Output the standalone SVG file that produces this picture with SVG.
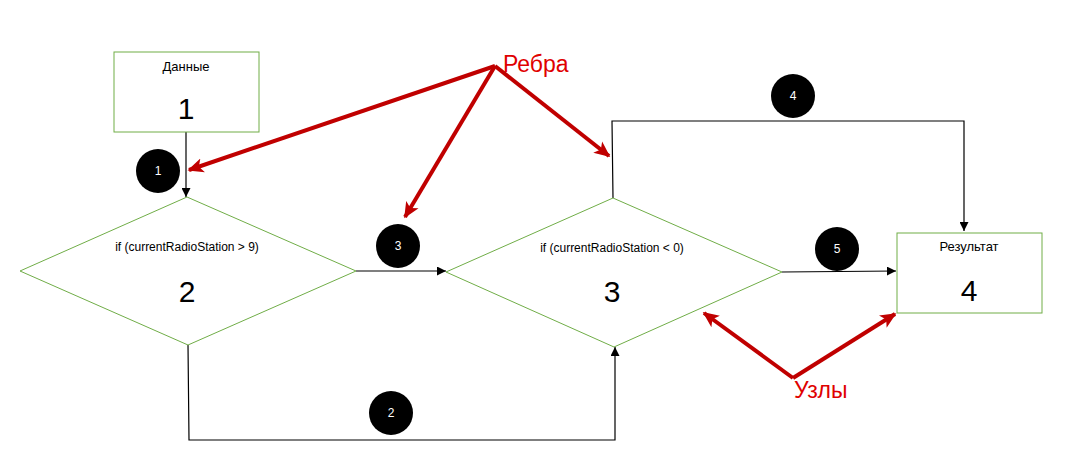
<svg xmlns="http://www.w3.org/2000/svg" width="1083" height="471" viewBox="0 0 1083 471">
<style>
.node{fill:#fff;stroke:#70ad47;stroke-width:1}
.lbl{font-family:"Liberation Sans",Arial,sans-serif;font-size:12px;fill:#000;text-anchor:middle}
.ttl{font-family:"Liberation Sans",Arial,sans-serif;font-size:13px;fill:#000;text-anchor:middle}
.big{font-family:"Liberation Sans",Arial,sans-serif;font-size:30px;fill:#000;text-anchor:middle}
.conn{fill:none;stroke:#000;stroke-width:1.2}
.badge{fill:#000}
.btxt{font-family:"Liberation Sans",Arial,sans-serif;font-size:12px;fill:#fff;text-anchor:middle}
.red{fill:none;stroke:#c00000;stroke-width:4}
.rtxt{font-family:"Liberation Sans",Arial,sans-serif;font-size:23px;fill:#e00000}
</style>
<defs>
<marker id="ah" viewBox="0 0 10 10" refX="10" refY="5" markerWidth="9" markerHeight="9" markerUnits="userSpaceOnUse" orient="auto">
<path d="M0,0 L10,5 L0,10 z" fill="#000"/>
</marker>
<marker id="rh" viewBox="0 0 10 10" refX="9" refY="5" markerWidth="4" markerHeight="4" orient="auto">
<path d="M0,0.5 L10,5 L0,9.5 L2.5,5 z" fill="#c00000"/>
</marker>
</defs>
<rect width="1083" height="471" fill="#fff"/>
<g id="connectors">
<path class="conn" d="M186,132 L186,197" marker-end="url(#ah)"/>
<path class="conn" d="M356,271 L446,271" marker-end="url(#ah)"/>
<path class="conn" d="M188,345 L189,440 L615,440 L615,347" marker-end="url(#ah)"/>
<path class="conn" d="M613,198 L612,121 L964,121 L964,231" marker-end="url(#ah)"/>
<path class="conn" d="M782,272 L896,271" marker-end="url(#ah)"/>
</g>
<g id="node1">
<rect class="node" x="114" y="52" width="145" height="80"/>
<text class="ttl" x="186" y="71">Данные</text>
<text class="big" x="186" y="119">1</text>
</g>
<g id="node2">
<polygon class="node" points="187,197 356,271 188,345 20,271"/>
<text class="lbl" x="187" y="251">if (currentRadioStation &gt; 9)</text>
<text class="big" x="187" y="302">2</text>
</g>
<g id="node3">
<polygon class="node" points="613,198 782,272 614,347 446,272"/>
<text class="lbl" x="612" y="252">if (currentRadioStation &lt; 0)</text>
<text class="big" x="612" y="302">3</text>
</g>
<g id="node4">
<rect class="node" x="897" y="233" width="145" height="80"/>
<text class="ttl" x="969" y="251">Результат</text>
<text class="big" x="969" y="301">4</text>
</g>
<g id="badges">
<circle class="badge" cx="158" cy="171" r="22"/><text class="btxt" x="158" y="175">1</text>
<circle class="badge" cx="391" cy="413" r="22"/><text class="btxt" x="391" y="417">2</text>
<circle class="badge" cx="398" cy="246" r="22"/><text class="btxt" x="398" y="250">3</text>
<circle class="badge" cx="793" cy="96" r="22"/><text class="btxt" x="793" y="100">4</text>
<circle class="badge" cx="837" cy="249" r="22"/><text class="btxt" x="837" y="253">5</text>
</g>
<g id="annotations">
<path class="red" d="M495,66 L189,170" marker-end="url(#rh)"/>
<path class="red" d="M495,66 L405,217" marker-end="url(#rh)"/>
<path class="red" d="M495,66 L609,156" marker-end="url(#rh)"/>
<path class="red" d="M793,378 L704,313" marker-end="url(#rh)"/>
<path class="red" d="M793,378 L895,314" marker-end="url(#rh)"/>
<text class="rtxt" x="503" y="72">Ребра</text>
<text class="rtxt" x="794" y="398">Узлы</text>
</g>
</svg>
